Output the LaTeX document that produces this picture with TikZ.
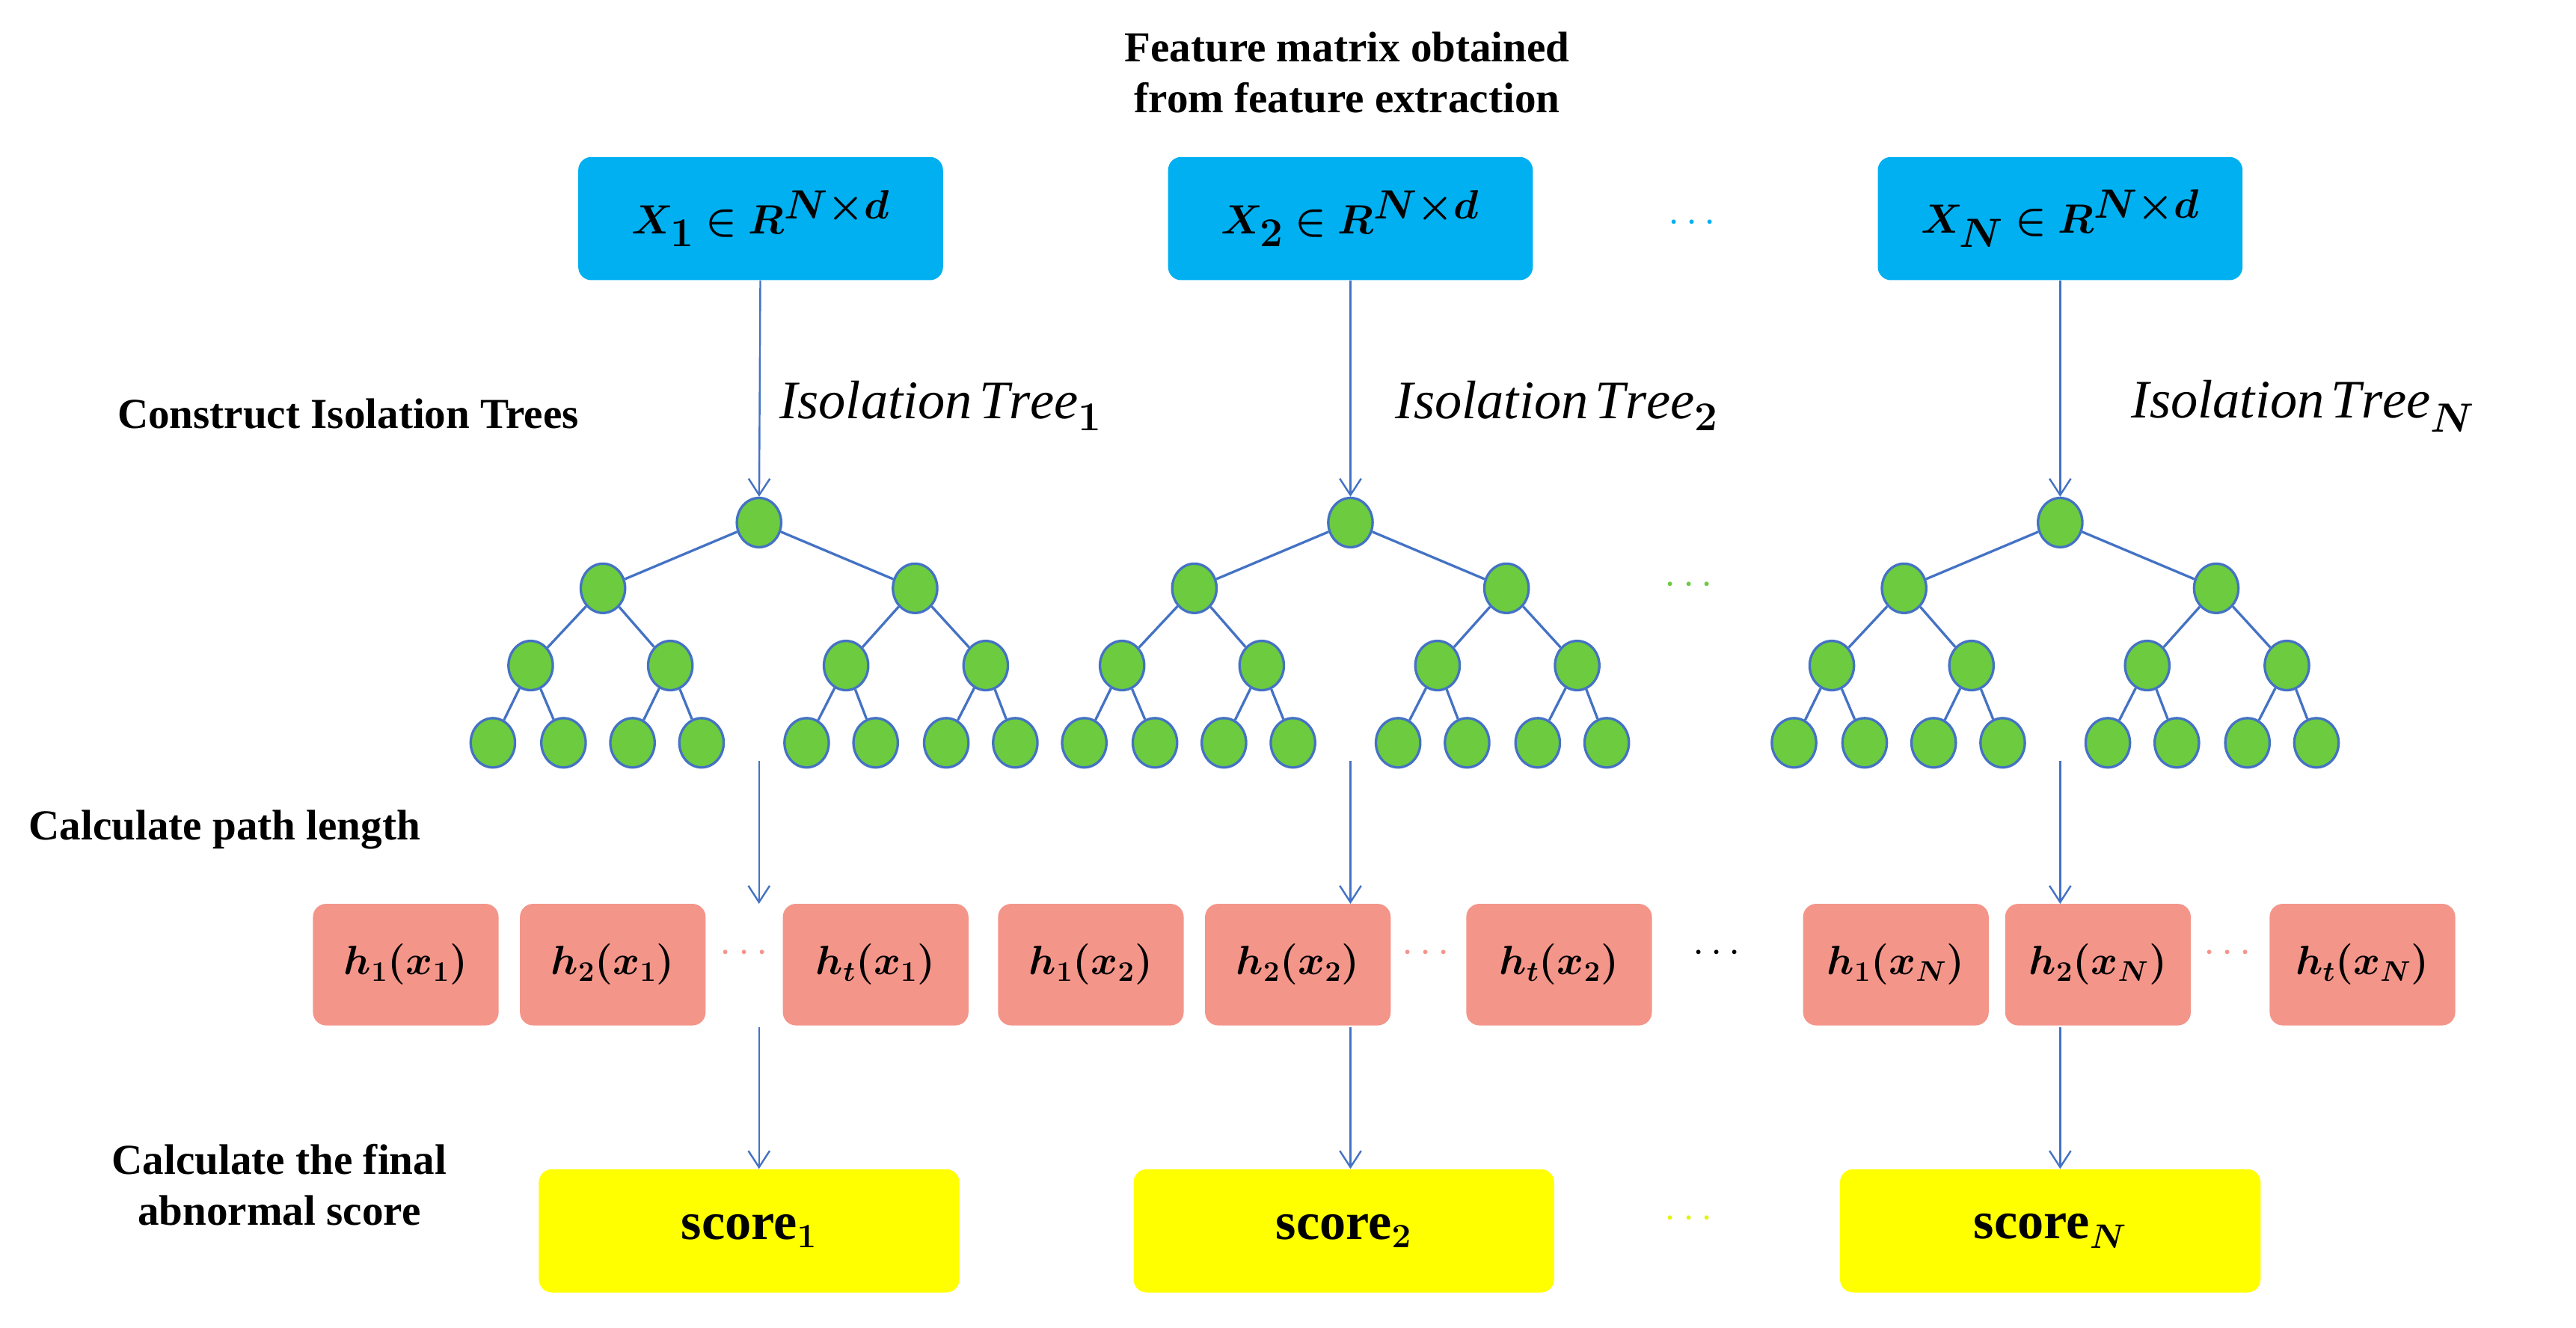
\documentclass[tikz,border=0pt]{standalone}
\usepackage{fontspec}
\usepackage{amsmath,bm}
\setmainfont{Liberation Serif}
\usetikzlibrary{arrows.meta,shapes.geometric}
\definecolor{bl}{HTML}{00B0F0}
\definecolor{ln}{HTML}{4472C4}
\definecolor{gr}{HTML}{6CCB3F}
\definecolor{pk}{HTML}{F4958A}
\definecolor{yl}{HTML}{FFFF00}
\begin{document}
\begin{tikzpicture}[x=1pt,y=-1pt,
  box/.style={rounded corners=8pt,draw=none,minimum height=75pt,inner sep=0pt},
  bbox/.style={box,fill=bl,minimum width=222pt,font=\fontsize{34}{38}\selectfont},
  pbox/.style={box,fill=pk,minimum width=113pt,minimum height=74pt,font=\fontsize{26}{30}\selectfont},
  ybox/.style={box,fill=yl,minimum width=256pt,minimum height=75pt,font=\fontsize{32}{36}\bfseries\selectfont},
  lbl/.style={font=\fontsize{26}{31}\bfseries\selectfont,align=center},
  it/.style={font=\fontsize{33}{36}\selectfont,anchor=west},
  leaf/.style={ellipse,draw=ln,line width=1.5pt,fill=gr,minimum width=27pt,minimum height=30pt,inner sep=0pt},
  edge/.style={draw=ln,line width=1.5pt},
  arr/.style={draw=ln,line width=1.1pt,-{Straight Barb[length=10pt,width=13pt]}},
  dots/.style={font=\fontsize{34}{38}\bfseries\selectfont}]
\useasboundingbox (0,0) rectangle (1568,808);
\node[lbl] (title) at (820,44) {Feature matrix obtained\\from feature extraction};
\node[bbox] (X1) at (463,133) {$\bm{X_1\in R^{N\times d}}$};
\node[bbox] (X2) at (822,133) {$\bm{X_2\in R^{N\times d}}$};
\node[bbox] (XN) at (1254,133) {$\bm{X_N\in R^{N\times d}}$};
\node[dots,text=bl] (d1) at (1032,136) {$\cdots$};
\node[lbl,anchor=west] (c1) at (68,252) {Construct Isolation Trees};
\node[it] (I1) at (471,247) {$\mathit{Isolation\,Tree}_{\bm 1}$};
\node[it] (I2) at (846,247) {$\mathit{Isolation\,Tree}_{\bm 2}$};
\node[it] (IN) at (1294,247) {$\mathit{Isolation\,Tree}_{\bm N}$};
\node[dots,text=gr] (d2) at (1030,356) {$\cdots$};
\foreach \t/\r in {1/462,2/822,N/1254}{
  \node[leaf] (\t r) at (\r,318) {};
  \node[leaf] (\t a) at (\r-95,358) {};
  \node[leaf] (\t b) at (\r+95,358) {};
  \node[leaf] (\t aa) at (\r-139,405) {};
  \node[leaf] (\t ab) at (\r-54,405) {};
  \node[leaf] (\t ba) at (\r+53,405) {};
  \node[leaf] (\t bb) at (\r+138,405) {};
  \foreach \p/\xa/\xb in {aa/-162/-119,ab/-77/-35,ba/29/71,bb/114/156}{
    \node[leaf] (\t\p1) at (\r+\xa,452) {};
    \node[leaf] (\t\p2) at (\r+\xb,452) {};
    \path[edge] (\t\p) -- (\t\p1) (\t\p) -- (\t\p2);
  }
  \path[edge] (\t r) -- (\t a) (\t r) -- (\t b) (\t a) -- (\t aa) (\t a) -- (\t ab) (\t b) -- (\t ba) (\t b) -- (\t bb);
  \coordinate (\t s) at (\r,463);
}
\path[arr] (X1) -- (1r); \path[arr] (X2) -- (2r); \path[arr] (XN) -- (Nr);
\node[lbl,anchor=west] (c2) at (14,505) {Calculate path length};
\node[pbox] (h11) at (247,587) {$\bm{h_1(x_1)}$};
\node[pbox] (h21) at (373,587) {$\bm{h_2(x_1)}$};
\node[pbox] (ht1) at (533,587) {$\bm{h_t(x_1)}$};
\node[pbox] (h12) at (664,587) {$\bm{h_1(x_2)}$};
\node[pbox] (h22) at (790,587) {$\bm{h_2(x_2)}$};
\node[pbox] (ht2) at (949,587) {$\bm{h_t(x_2)}$};
\node[pbox] (h1N) at (1154,587) {$\bm{h_1(x_N)}$};
\node[pbox] (h2N) at (1277,587) {$\bm{h_2(x_N)}$};
\node[pbox] (htN) at (1438,587) {$\bm{h_t(x_N)}$};
\node[dots,text=pk] (p1) at (455,580) {$\cdots$};
\node[dots,text=pk] (p2) at (870,580) {$\cdots$};
\node[dots,text=pk] (p3) at (1358,580) {$\cdots$};
\node[dots,text=black] (p4) at (1047,580) {$\cdots$};
\coordinate (t1) at (462,550); \coordinate (t2) at (822,550); \coordinate (tN) at (1254,550);
\path[arr] (1s) -- (t1); \path[arr] (2s) -- (t2); \path[arr] (Ns) -- (tN);
\node[lbl] (c3) at (170,721) {Calculate the final\\abnormal score};
\node[ybox] (s1) at (456,749) {score$_{\bm 1}$};
\node[ybox] (s2) at (818,749) {score$_{\bm 2}$};
\node[ybox] (sN) at (1248,749) {score$_{\bm N}$};
\node[dots,text=yl!80!gr] (d3) at (1030,742) {$\cdots$};
\coordinate (u1) at (462,625); \coordinate (u2) at (822,625); \coordinate (uN) at (1254,625);
\path[arr] (u1) -- (s1.north -| u1); \path[arr] (u2) -- (s2.north -| u2); \path[arr] (uN) -- (sN.north -| uN);
\end{tikzpicture}
\end{document}
